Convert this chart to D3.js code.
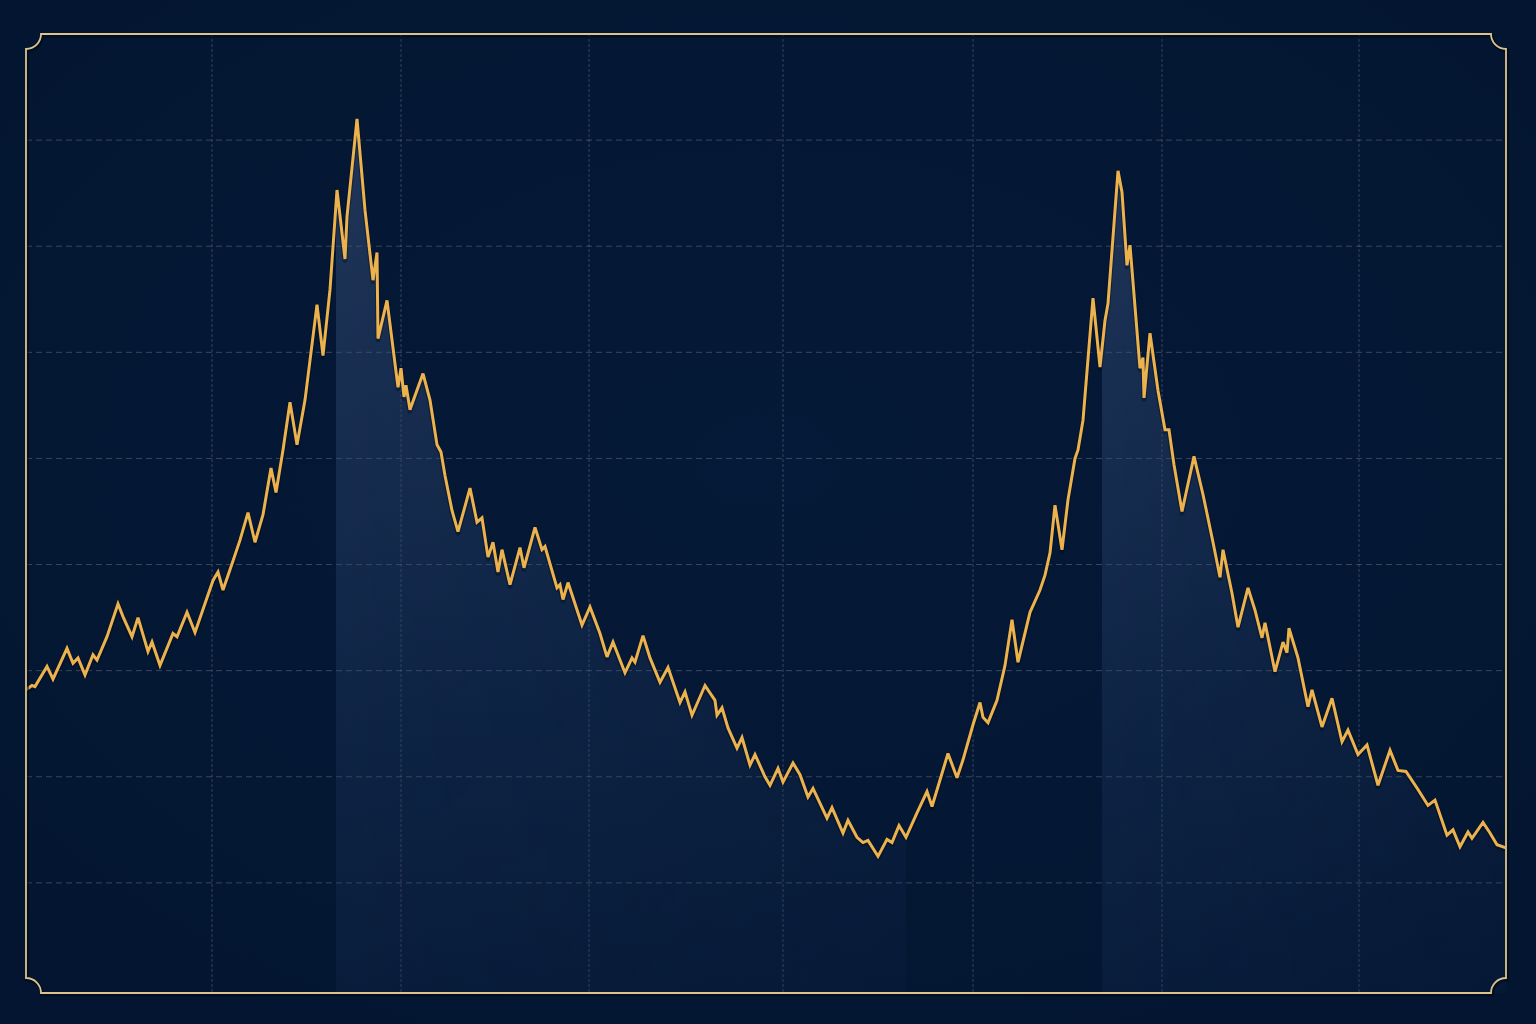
<!DOCTYPE html>
<html><head><meta charset="utf-8">
<script src="https://cdn.jsdelivr.net/npm/d3@7"></script>
<style>html,body{margin:0;padding:0;background:#041834;}svg{display:block;}</style>
</head><body>
<svg id="c" width="1536" height="1024"></svg>
<script>
const xs = [0,6,9,21,27,41,47,52,59,67,71,81,92,97,106,112,122,126,134,147,151,161,164,169,187,192,197,205,214,222,229,237,245,250,257,264,271,279,291,297,304,311,319,321,331,339,347,351,352,361,372,375,378,380,384,397,404,411,415,419,426,432,444,451,456,462,467,472,476,484,494,498,509,516,519,531,534,537,542,556,564,574,581,587,599,606,609,617,624,634,642,654,659,666,679,689,691,696,702,711,716,724,729,739,744,752,757,767,774,782,787,801,806,817,822,831,837,842,852,861,866,873,880,891,901,906,914,922,931,937,947,954,957,962,971,979,986,992,1004,1014,1019,1024,1029,1036,1042,1049,1052,1057,1067,1074,1079,1082,1092,1096,1101,1104,1114,1117,1118,1124,1132,1139,1143,1148,1156,1168,1177,1187,1194,1197,1206,1212,1222,1229,1236,1239,1249,1257,1261,1263,1272,1282,1286,1296,1306,1316,1322,1332,1341,1352,1364,1372,1380,1392,1402,1409,1421,1427,1434,1442,1446,1457,1464,1471,1480];
const values = [28.2,28.6,28.5,30.4,29.2,32.1,30.7,31.2,29.6,31.5,31.0,33.2,36.3,35.1,33.2,35.0,31.8,32.7,30.5,33.5,33.2,35.5,34.8,33.6,38.5,39.3,37.6,39.8,42.3,44.9,42.1,44.7,49.1,46.8,50.8,55.3,51.3,55.5,64.5,59.7,65.9,75.3,68.8,72.8,82.0,73.4,66.8,69.4,61.3,64.9,56.7,58.5,55.8,56.9,54.6,58.0,55.5,51.3,50.6,48.4,45.1,43.1,47.2,44.0,44.4,40.7,42.1,39.3,41.4,38.1,41.6,39.7,43.5,41.4,41.7,37.8,38.1,36.7,38.3,34.3,36.0,33.5,31.3,32.7,29.8,31.2,30.8,33.3,31.2,28.9,30.3,27.0,28.0,25.8,28.6,27.2,25.8,26.5,24.6,22.7,23.7,21.1,22.1,20.0,19.2,20.8,19.5,21.3,20.2,18.1,18.9,16.1,17.1,14.7,15.9,14.3,13.8,14.0,12.5,14.1,13.8,15.4,14.3,16.6,18.6,17.2,19.7,22.2,19.9,21.6,24.9,27.0,25.6,25.1,27.2,30.5,34.8,30.8,35.5,37.6,39.0,41.1,45.6,41.4,46.1,50.0,50.8,53.6,65.1,58.6,63.0,64.6,77.1,75.1,68.2,70.1,58.5,59.5,55.7,61.8,56.4,52.7,52.7,49.4,45.0,50.2,46.6,42.1,38.8,41.4,37.3,34.1,37.8,35.7,33.1,34.5,29.9,32.7,31.7,34.0,31.2,26.6,28.2,24.7,27.4,23.3,24.4,22.1,23.0,19.2,22.5,20.6,20.5,18.8,17.3,17.8,14.5,15.0,13.4,14.8,14.2,15.7,14.7,13.6,13.3];
const xTicks = [186,375,563,757,947,1136,1333];
const yTicks = [10,20,30,40,50,60,70,80];
const bandStarts = [310,1076];
const bandEnds = [880,1480];

const svg = d3.select('#c');
const L = 26, R = 1506, T = 34, B = 993, r = 15;
const x = d3.scaleLinear().domain([0,1480]).range([L,R]);
const y = d3.scaleLinear().domain([0,90]).range([989,T]);
const data = xs.map((d,i)=>({x:d,v:values[i]}));

const defs = svg.append('defs');
const bg = defs.append('radialGradient').attr('id','bg').attr('cx','50%').attr('cy','45%').attr('r','75%');
bg.append('stop').attr('offset','0%').attr('stop-color','#051a38');
bg.append('stop').attr('offset','100%').attr('stop-color','#031530');
svg.append('rect').attr('width',1536).attr('height',1024).attr('fill','url(#bg)');

const fg = defs.append('linearGradient').attr('id','fillg').attr('gradientUnits','userSpaceOnUse')
  .attr('x1',0).attr('y1',y(82)).attr('x2',0).attr('y2',B);
fg.append('stop').attr('offset','0%').attr('stop-color','#3d5680').attr('stop-opacity',0.5);
fg.append('stop').attr('offset','55%').attr('stop-color','#2c4570').attr('stop-opacity',0.36);
fg.append('stop').attr('offset','100%').attr('stop-color','#1f3862').attr('stop-opacity',0.2);

const hg = defs.append('linearGradient').attr('id','fade').attr('gradientUnits','objectBoundingBox')
  .attr('x1',0).attr('y1',0).attr('x2',1).attr('y2',0);
hg.append('stop').attr('offset','0%').attr('stop-color','#fff').attr('stop-opacity',1);
hg.append('stop').attr('offset','100%').attr('stop-color','#fff').attr('stop-opacity',0.55);

bandStarts.forEach((s,i)=>{
  defs.append('clipPath').attr('id','band'+i).append('rect')
    .attr('x',x(s)).attr('y',T).attr('width',x(bandEnds[i])-x(s)).attr('height',B-T);
  defs.append('mask').attr('id','mask'+i).attr('maskUnits','userSpaceOnUse')
    .attr('x',x(s)).attr('y',T).attr('width',x(bandEnds[i])-x(s)).attr('height',B-T)
    .append('rect').attr('x',x(s)).attr('y',T).attr('width',x(bandEnds[i])-x(s)).attr('height',B-T)
    .attr('fill','url(#fade)');
});

// grid
const grid = svg.append('g');
grid.selectAll('line.h').data(yTicks).join('line')
  .attr('x1',L).attr('x2',R).attr('y1',d=>y(d)).attr('y2',d=>y(d))
  .attr('stroke','#b4b6bc').attr('stroke-opacity',0.3).attr('stroke-width',1).attr('stroke-dasharray','6,4');
grid.selectAll('line.v').data(xTicks).join('line')
  .attr('y1',T).attr('y2',B).attr('x1',d=>x(d)).attr('x2',d=>x(d))
  .attr('stroke','#b4b6bc').attr('stroke-opacity',0.28).attr('stroke-width',1).attr('stroke-dasharray','3,2');

// area bands
const area = d3.area().x(d=>x(d.x)).y0(B).y1(d=>y(d.v));
bandStarts.forEach((s,i)=>{
  svg.append('path').datum(data).attr('d',area).attr('fill','url(#fillg)')
    .attr('clip-path','url(#band'+i+')').attr('mask','url(#mask'+i+')');
});

// line
const line = d3.line().x(d=>x(d.x)).y(d=>y(d.v));
svg.append('path').datum(data).attr('d',line).attr('fill','none')
  .attr('stroke','#000814').attr('stroke-opacity',0.35).attr('stroke-width',5).attr('stroke-linejoin','round')
  .attr('transform','translate(0,1.5)');
svg.append('path').datum(data).attr('d',line).attr('fill','none')
  .attr('stroke','#ecb24e').attr('stroke-width',3).attr('stroke-linejoin','miter').attr('stroke-miterlimit',3);

// frame with concave corners
const p = d3.path();
p.moveTo(L+r,T); p.lineTo(R-r,T);
p.arc(R,T,r,Math.PI,Math.PI/2,true);
p.lineTo(R,B-r);
p.arc(R,B,r,-Math.PI/2,Math.PI,true);
p.lineTo(L+r,B);
p.arc(L,B,r,0,-Math.PI/2,true);
p.lineTo(L,T+r);
p.arc(L,T,r,Math.PI/2,0,true);
p.closePath();
svg.append('path').attr('d',p.toString()).attr('fill','none').attr('stroke','#000a18').attr('stroke-opacity',0.6).attr('stroke-width',4).attr('transform','translate(1,1.5)');
svg.append('path').attr('d',p.toString()).attr('fill','none').attr('stroke','#dcc38e').attr('stroke-width',1.8);
</script>
</body></html>
